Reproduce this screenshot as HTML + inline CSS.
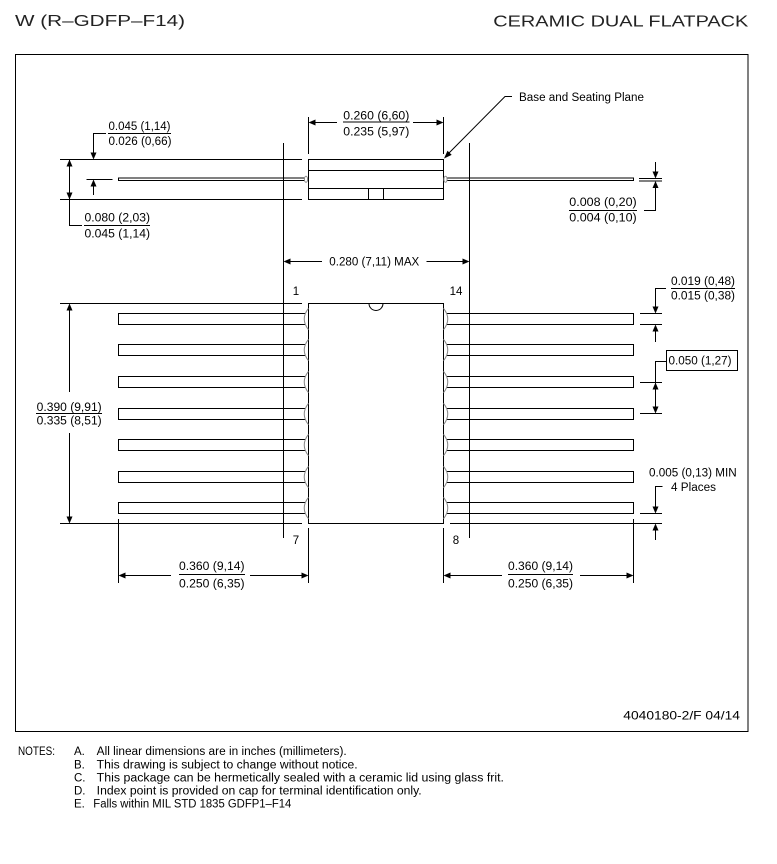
<!DOCTYPE html>
<html>
<head>
<meta charset="utf-8">
<style>
  html,body{margin:0;padding:0;background:#fff;}
  svg{display:block;}
  text{font-family:"Liberation Sans",sans-serif;fill:#000;}
  .d{font-size:11.5px;}
  .h{font-size:16px;fill:#222;}
  .n{font-size:11.5px;}
</style>
</head>
<body>
<svg width="777" height="864" viewBox="0 0 777 864" xmlns="http://www.w3.org/2000/svg">
  <!-- Header -->
  <text class="h" x="15" y="26" textLength="170" lengthAdjust="spacingAndGlyphs">W (R–GDFP–F14)</text>
  <text class="h" x="493.3" y="26.5" textLength="255" lengthAdjust="spacingAndGlyphs">CERAMIC DUAL FLATPACK</text>

  <!-- Frame -->
  <rect x="15.5" y="54.5" width="732.5" height="677" fill="none" stroke="#000" stroke-width="1"/>

  <g stroke="#000" stroke-width="1" fill="none">
    <!-- ===== Side view ===== -->
    <line x1="60" y1="159.5" x2="302" y2="159.5"/>
    <line x1="60" y1="199.5" x2="302" y2="199.5"/>
    <polyline points="69.5,160 69.5,225.5 82,225.5"/>
    <polyline points="106,133.5 93.5,133.5 93.5,153"/>
    <line x1="86.5" y1="179.5" x2="112.5" y2="179.5"/>
    <line x1="93.5" y1="185" x2="93.5" y2="195"/>
    <path d="M305,178 H118.5 V180.5 H305"/>
    <rect x="308.5" y="159.5" width="135" height="40"/>
    <line x1="308.5" y1="170.5" x2="443.5" y2="170.5"/>
    <line x1="308.5" y1="188.5" x2="443.5" y2="188.5"/>
    <line x1="368.5" y1="188.5" x2="368.5" y2="199.5"/>
    <line x1="383.5" y1="188.5" x2="383.5" y2="199.5"/>
    <path d="M446.5,178 H633.5 V180.5 H446.5"/>
    <line x1="308.5" y1="117" x2="308.5" y2="154"/>
    <line x1="443.5" y1="117" x2="443.5" y2="154"/>
    <line x1="312" y1="122.5" x2="337" y2="122.5"/>
    <line x1="413" y1="122.5" x2="440" y2="122.5"/>
    <line x1="343" y1="122" x2="409.5" y2="122"/>
    <line x1="283.5" y1="143" x2="283.5" y2="538"/>
    <line x1="469.5" y1="143" x2="469.5" y2="538"/>
    <line x1="287" y1="261.5" x2="322" y2="261.5"/>
    <line x1="426.5" y1="261.5" x2="466" y2="261.5"/>
    <polyline points="512,96.5 505,96.5 449,153"/>
    <line x1="639" y1="178.5" x2="662" y2="178.5"/>
    <line x1="639" y1="181" x2="662" y2="181"/>
    <line x1="655.5" y1="162" x2="655.5" y2="172"/>
    <polyline points="655.5,187 655.5,210.5 644,210.5"/>
    <line x1="569" y1="210.5" x2="637" y2="210.5"/>

    <!-- ===== Top view ===== -->
    <line x1="60" y1="303.5" x2="302" y2="303.5"/>
    <line x1="60" y1="523.5" x2="302" y2="523.5"/>
    <line x1="450" y1="523.5" x2="662" y2="523.5"/>
    <rect x="308.5" y="303.5" width="135" height="220" fill="#fff"/>
    <path d="M369,303.5 A7,7 0 0 0 383,303.5"/>

    <path d="M305,313.5 H118.5 V324.5 H305"/>
    <path d="M305,344.5 H118.5 V355.5 H305"/>
    <path d="M305,376.5 H118.5 V387.5 H305"/>
    <path d="M305,408.5 H118.5 V419.5 H305"/>
    <path d="M305,439.5 H118.5 V450.5 H305"/>
    <path d="M305,471.5 H118.5 V482.5 H305"/>
    <path d="M305,502.5 H118.5 V513.5 H305"/>
    <path d="M446.5,313.5 H633.5 V324.5 H446.5"/>
    <path d="M446.5,344.5 H633.5 V355.5 H446.5"/>
    <path d="M446.5,376.5 H633.5 V387.5 H446.5"/>
    <path d="M446.5,408.5 H633.5 V419.5 H446.5"/>
    <path d="M446.5,439.5 H633.5 V450.5 H446.5"/>
    <path d="M446.5,471.5 H633.5 V482.5 H446.5"/>
    <path d="M446.5,502.5 H633.5 V513.5 H446.5"/>

    <line x1="69.5" y1="308" x2="69.5" y2="392"/>
    <line x1="69.5" y1="433" x2="69.5" y2="518"/>
    <line x1="36" y1="413.5" x2="102" y2="413.5"/>

    <line x1="640" y1="313.5" x2="662" y2="313.5"/>
    <line x1="640" y1="324.5" x2="662" y2="324.5"/>
    <polyline points="666,288.5 655.5,288.5 655.5,307"/>
    <line x1="655.5" y1="330" x2="655.5" y2="342"/>
    <line x1="671" y1="288.5" x2="735" y2="288.5"/>

    <line x1="640" y1="382.5" x2="662" y2="382.5"/>
    <line x1="640" y1="413.5" x2="662" y2="413.5"/>
    <polyline points="666,361.5 655.5,361.5 655.5,408"/>
    <rect x="666.5" y="350.5" width="71" height="20"/>

    <line x1="640" y1="513.5" x2="662" y2="513.5"/>
    <polyline points="662.5,486.5 655.5,486.5 655.5,507"/>
    <line x1="655.5" y1="529" x2="655.5" y2="540"/>

    <line x1="118.5" y1="519" x2="118.5" y2="583"/>
    <line x1="308.5" y1="528" x2="308.5" y2="583"/>
    <line x1="443.5" y1="528" x2="443.5" y2="583"/>
    <line x1="633.5" y1="519" x2="633.5" y2="583"/>
    <line x1="122" y1="575.5" x2="171" y2="575.5"/>
    <line x1="250" y1="575.5" x2="305" y2="575.5"/>
    <line x1="447" y1="575.5" x2="502" y2="575.5"/>
    <line x1="580" y1="575.5" x2="630" y2="575.5"/>
    <line x1="179" y1="574.5" x2="245" y2="574.5"/>
    <line x1="508" y1="574.5" x2="573" y2="574.5"/>

    <line x1="108" y1="133.5" x2="171" y2="133.5"/>
    <line x1="84" y1="225.5" x2="150" y2="225.5"/>
  </g>

  <g stroke="#888" stroke-width="1" fill="none">
    <ellipse cx="306" cy="179.3" rx="1.6" ry="3"/>
    <ellipse cx="445.5" cy="179.3" rx="1.6" ry="3"/>
    <path d="M308.5,308.3 Q300,319 308.5,329.7"/>
    <path d="M308.5,339.3 Q300,350 308.5,360.7"/>
    <path d="M308.5,371.3 Q300,382 308.5,392.7"/>
    <path d="M308.5,403.3 Q300,414 308.5,424.7"/>
    <path d="M308.5,434.3 Q300,445 308.5,455.7"/>
    <path d="M308.5,466.3 Q300,477 308.5,487.7"/>
    <path d="M308.5,497.3 Q300,508 308.5,518.7"/>
    <path d="M443.5,308.3 Q452,319 443.5,329.7"/>
    <path d="M443.5,339.3 Q452,350 443.5,360.7"/>
    <path d="M443.5,371.3 Q452,382 443.5,392.7"/>
    <path d="M443.5,403.3 Q452,414 443.5,424.7"/>
    <path d="M443.5,434.3 Q452,445 443.5,455.7"/>
    <path d="M443.5,466.3 Q452,477 443.5,487.7"/>
    <path d="M443.5,497.3 Q452,508 443.5,518.7"/>
  </g>

  <g fill="#000" stroke="none">
    <polygon points="93.5,159.5 90.5,152.5 96.5,152.5"/>
    <polygon points="69.5,159.5 66.5,166.5 72.5,166.5"/>
    <polygon points="69.5,199.5 66.5,192.5 72.5,192.5"/>
    <polygon points="93.5,179.5 90.5,186.5 96.5,186.5"/>
    <polygon points="308.5,122.5 315.5,119.5 315.5,125.5"/>
    <polygon points="443.5,122.5 436.5,119.5 436.5,125.5"/>
    <polygon points="283.5,261.5 290.5,258.5 290.5,264.5"/>
    <polygon points="469.5,261.5 462.5,258.5 462.5,264.5"/>
    <polygon points="444,158.5 451.7,154.9 447.5,150.7"/>
    <polygon points="655.5,178.5 652.5,171.5 658.5,171.5"/>
    <polygon points="655.5,181 652.5,188 658.5,188"/>
    <polygon points="69.5,303.5 66.5,310.5 72.5,310.5"/>
    <polygon points="69.5,523.5 66.5,516.5 72.5,516.5"/>
    <polygon points="655.5,313.5 652.5,306.5 658.5,306.5"/>
    <polygon points="655.5,324.5 652.5,331.5 658.5,331.5"/>
    <polygon points="655.5,382.5 652.5,389.5 658.5,389.5"/>
    <polygon points="655.5,413.5 652.5,406.5 658.5,406.5"/>
    <polygon points="655.5,513.5 652.5,506.5 658.5,506.5"/>
    <polygon points="655.5,523.5 652.5,530.5 658.5,530.5"/>
    <polygon points="118.5,575.5 125.5,572.5 125.5,578.5"/>
    <polygon points="308.5,575.5 301.5,572.5 301.5,578.5"/>
    <polygon points="443.5,575.5 450.5,572.5 450.5,578.5"/>
    <polygon points="633.5,575.5 626.5,572.5 626.5,578.5"/>
  </g>

  <text class="d" x="108.5" y="130" textLength="62" lengthAdjust="spacingAndGlyphs">0.045 (1,14)</text>
  <text class="d" x="108.5" y="145" textLength="63" lengthAdjust="spacingAndGlyphs">0.026 (0,66)</text>
  <text class="d" x="84.5" y="221.5" textLength="65.5" lengthAdjust="spacingAndGlyphs">0.080 (2,03)</text>
  <text class="d" x="84.5" y="237.5" textLength="65.5" lengthAdjust="spacingAndGlyphs">0.045 (1,14)</text>
  <text class="d" x="343.3" y="119.5" textLength="66" lengthAdjust="spacingAndGlyphs">0.260 (6,60)</text>
  <text class="d" x="343.3" y="135.5" textLength="66" lengthAdjust="spacingAndGlyphs">0.235 (5,97)</text>
  <text class="d" x="519" y="101" textLength="125" lengthAdjust="spacingAndGlyphs">Base and Seating Plane</text>
  <text class="d" x="569.3" y="206" textLength="67.4" lengthAdjust="spacingAndGlyphs">0.008 (0,20)</text>
  <text class="d" x="569.3" y="221.5" textLength="67.4" lengthAdjust="spacingAndGlyphs">0.004 (0,10)</text>
  <text class="d" x="329.3" y="265.5" textLength="90" lengthAdjust="spacingAndGlyphs">0.280 (7,11) MAX</text>

  <text class="d" x="296" y="295" text-anchor="middle">1</text>
  <text class="d" x="456" y="295" text-anchor="middle">14</text>
  <text class="d" x="296" y="544" text-anchor="middle">7</text>
  <text class="d" x="456" y="544" text-anchor="middle">8</text>

  <text class="d" x="36.7" y="410.8" textLength="65" lengthAdjust="spacingAndGlyphs">0.390 (9,91)</text>
  <text class="d" x="36.7" y="424.5" textLength="65" lengthAdjust="spacingAndGlyphs">0.335 (8,51)</text>

  <text class="d" x="671" y="285" textLength="64" lengthAdjust="spacingAndGlyphs">0.019 (0,48)</text>
  <text class="d" x="671" y="299.5" textLength="64" lengthAdjust="spacingAndGlyphs">0.015 (0,38)</text>
  <text class="d" x="668.5" y="364.5" textLength="63" lengthAdjust="spacingAndGlyphs">0.050 (1,27)</text>
  <text class="d" x="649" y="476.5" textLength="87.7" lengthAdjust="spacingAndGlyphs">0.005 (0,13) MIN</text>
  <text class="d" x="671" y="491" textLength="45" lengthAdjust="spacingAndGlyphs">4 Places</text>

  <text class="d" x="179" y="570" textLength="65.5" lengthAdjust="spacingAndGlyphs">0.360 (9,14)</text>
  <text class="d" x="179" y="587.5" textLength="65.5" lengthAdjust="spacingAndGlyphs">0.250 (6,35)</text>
  <text class="d" x="508" y="570" textLength="65" lengthAdjust="spacingAndGlyphs">0.360 (9,14)</text>
  <text class="d" x="508" y="587.5" textLength="65" lengthAdjust="spacingAndGlyphs">0.250 (6,35)</text>

  <text style="font-size:12px" x="623.3" y="719.5" textLength="116.7" lengthAdjust="spacingAndGlyphs">4040180-2/F  04/14</text>

  <text class="n" x="18" y="755" textLength="37" lengthAdjust="spacingAndGlyphs">NOTES:</text>
  <text class="n" x="74" y="755">A.</text>
  <text class="n" x="96.7" y="755" textLength="250" lengthAdjust="spacingAndGlyphs">All linear dimensions are in inches (millimeters).</text>
  <text class="n" x="74" y="768.5">B.</text>
  <text class="n" x="96.7" y="768.5" textLength="261" lengthAdjust="spacingAndGlyphs">This drawing is subject to change without notice.</text>
  <text class="n" x="74" y="781.5">C.</text>
  <text class="n" x="96.7" y="781.5" textLength="407.3" lengthAdjust="spacingAndGlyphs">This package can be hermetically sealed with a ceramic lid using glass frit.</text>
  <text class="n" x="74" y="794.5">D.</text>
  <text class="n" x="96.7" y="794.5" textLength="325" lengthAdjust="spacingAndGlyphs">Index point is provided on cap for terminal identification only.</text>
  <text class="n" x="74" y="807.5">E.</text>
  <text class="n" x="93.3" y="807.5" textLength="198" lengthAdjust="spacingAndGlyphs">Falls within MIL STD 1835 GDFP1–F14</text>
</svg>
</body>
</html>
